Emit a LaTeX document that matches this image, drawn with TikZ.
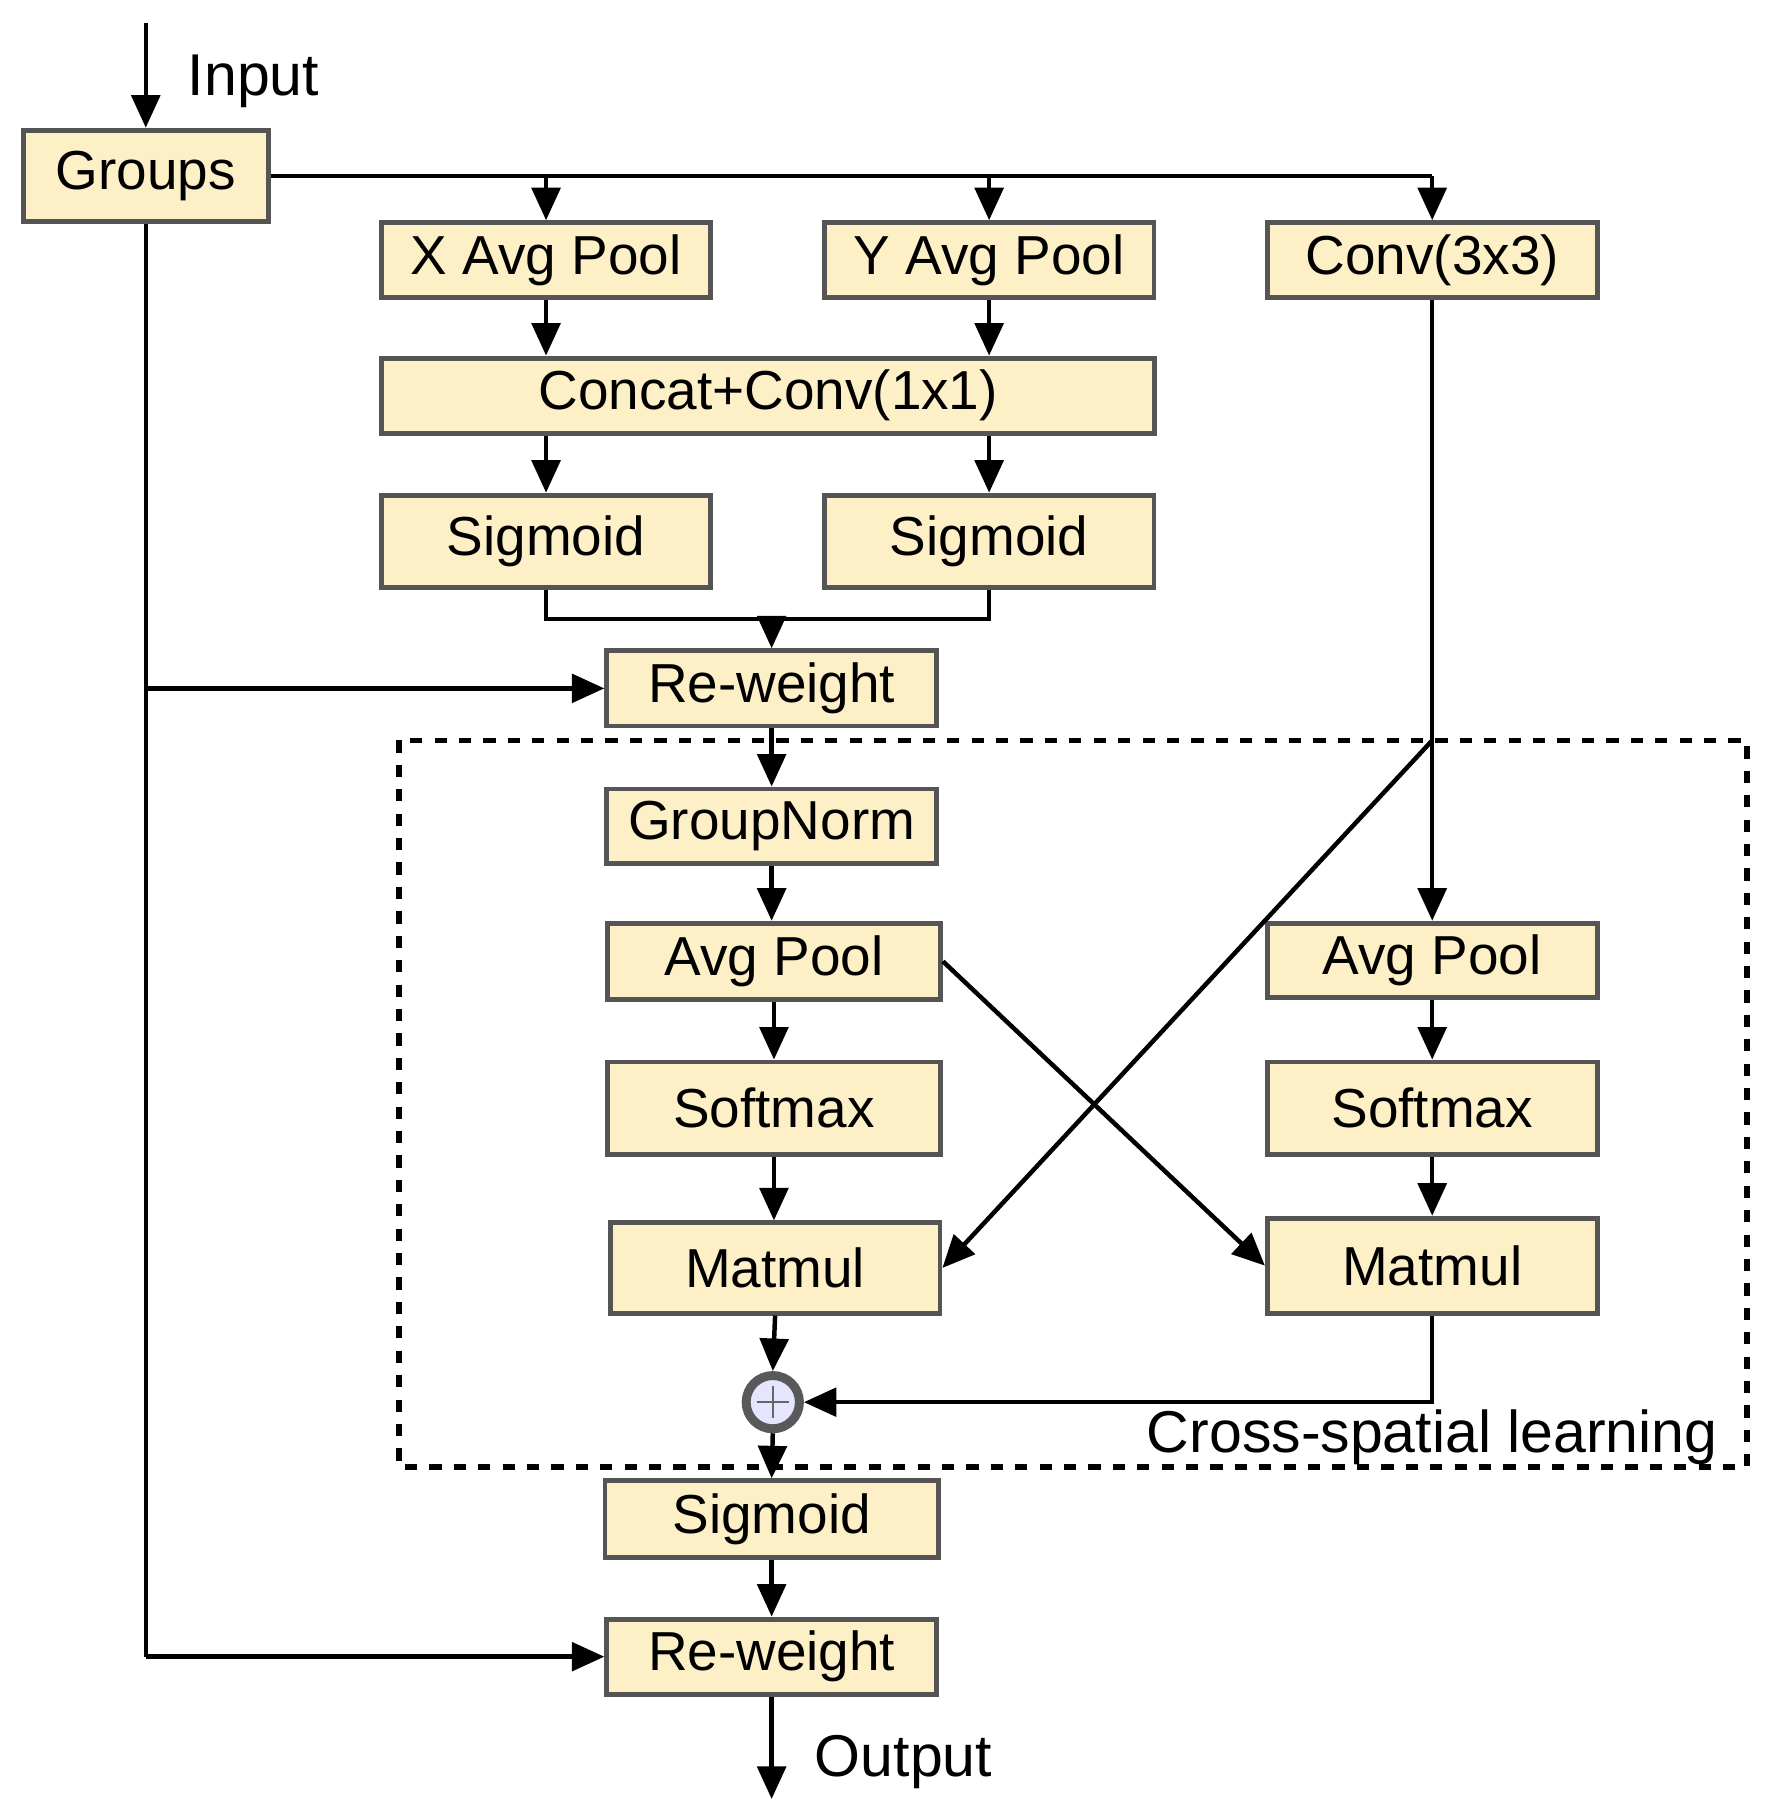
\documentclass[tikz,border=0pt]{standalone}
\usepackage{fontspec}
\setmainfont{Liberation Sans}
\usetikzlibrary{arrows.meta,calc}
\definecolor{boxfill}{HTML}{FDF0C6}
\definecolor{boxline}{HTML}{555555}
\begin{document}
\begin{tikzpicture}[x=0.01cm,y=-0.01cm,
  box/.style={draw=boxline,line width=1.2pt,fill=boxfill,inner sep=0pt,font=\fontsize{13.5}{15}\selectfont},
  ar/.style={-{Triangle[length=8pt,width=7pt]},line width=1.1pt},
  ln/.style={line width=1.1pt},
  lbl/.style={font=\fontsize{14.5}{16}\selectfont}]
\useasboundingbox (0,0) rectangle (1530,1568);
\newcommand{\bx}[6]{\node[box,minimum width=#4*0.01cm,minimum height=#5*0.01cm] (#1) at (#2,#3) {#6};}
\bx{groups}{126}{152}{212}{79}{Groups}
\bx{xap}{472}{225}{285}{65}{X Avg Pool}
\bx{yap}{855}{225}{285}{65}{Y Avg Pool}
\bx{conv}{1238}{225}{285}{65}{Conv(3x3)}
\bx{cat}{664}{342}{668}{65}{Concat+Conv(1x1)}
\bx{sig1}{472}{468}{285}{80}{Sigmoid}
\bx{sig2}{855}{468}{285}{80}{Sigmoid}
\bx{rw1}{667}{595}{285}{65}{Re-weight}
\bx{gn}{667}{714}{285}{64}{GroupNorm}
\bx{apl}{669}{831}{288}{66}{Avg Pool}
\bx{apr}{1238}{830}{285}{64}{Avg Pool}
\bx{sml}{669}{958}{288}{80}{Softmax}
\bx{smr}{1238}{958}{285}{80}{Softmax}
\bx{mml}{670}{1096}{285}{78}{Matmul}
\bx{mmr}{1238}{1094}{285}{82}{Matmul}
\bx{sig3}{667}{1313}{288}{66}{Sigmoid}
\bx{rw2}{667}{1432}{285}{65}{Re-weight}
\node[circle,draw=black!65,line width=2.2pt,fill=blue!10,minimum size=0.46cm,inner sep=0pt] (plus) at (668,1212) {};
\draw[black!60,line width=0.6pt] (plus.center)+(-14,0) -- +(14,0) (plus.center)+(0,-14) -- +(0,14);
\draw[dashed,line width=1.3pt] (345,640) rectangle (1510,1268);
\node[lbl,anchor=east] (csl) at (1497,1242) {Cross-spatial learning};
% input/output
\coordinate (in) at (126,20);
\draw[ar] (in) -- (groups.north);
\node[lbl,anchor=west] (inl) at (150,70) {Input};
\coordinate (out) at (667,1555);
\draw[ar] (rw2.south) -- (out);
\node[lbl,anchor=west] (outl) at (692,1523) {Output};
% top bus
\coordinate (busend) at (1238,152);
\draw[ln] (groups.east) -- (busend);
\draw[ar] (472,152) -- (xap.north);
\draw[ar] (855,152) -- (yap.north);
\draw[ar] (busend) -- (conv.north);
\draw[ar] (xap.south) -- (xap.south|-cat.north);
\draw[ar] (yap.south) -- (yap.south|-cat.north);
\draw[ar] (cat.south-|sig1) -- (sig1.north);
\draw[ar] (cat.south-|sig2) -- (sig2.north);
\coordinate (j) at (667,535);
\draw[ln] (sig1.south) |- (j) -| (sig2.south);
\draw[ar] (j) -- (rw1.north);
% left bus
\coordinate (lb) at (126,1432);
\draw[ln] (groups.south) -- (lb);
\draw[ar] (126,595) -- (rw1.west);
\draw[ar] (lb) -- (rw2.west);
% middle column
\draw[ar] (rw1.south) -- (gn.north);
\draw[ar] (gn.south) -- (gn.south|-apl.north);
\draw[ar] (apl.south) -- (sml.north);
\draw[ar] (sml.south) -- (sml.south|-mml.north);
\draw[ar] (mml.south) -- (plus.north);
\draw[ar] (plus.south) -- (sig3.north);
\draw[ar] (sig3.south) -- (rw2.north);
% right column
\draw[ar] (conv.south) -- (apr.north);
\draw[ar] (apr.south) -- (smr.north);
\draw[ar] (smr.south) -- (mmr.north);
\draw[ar] (mmr.south) |- (plus.east);
% cross
\coordinate (cx) at (1238,640);
\draw[ar] (cx) -- (mml.east);
\draw[ar] (apl.east) -- (mmr.west);
\end{tikzpicture}
\end{document}
